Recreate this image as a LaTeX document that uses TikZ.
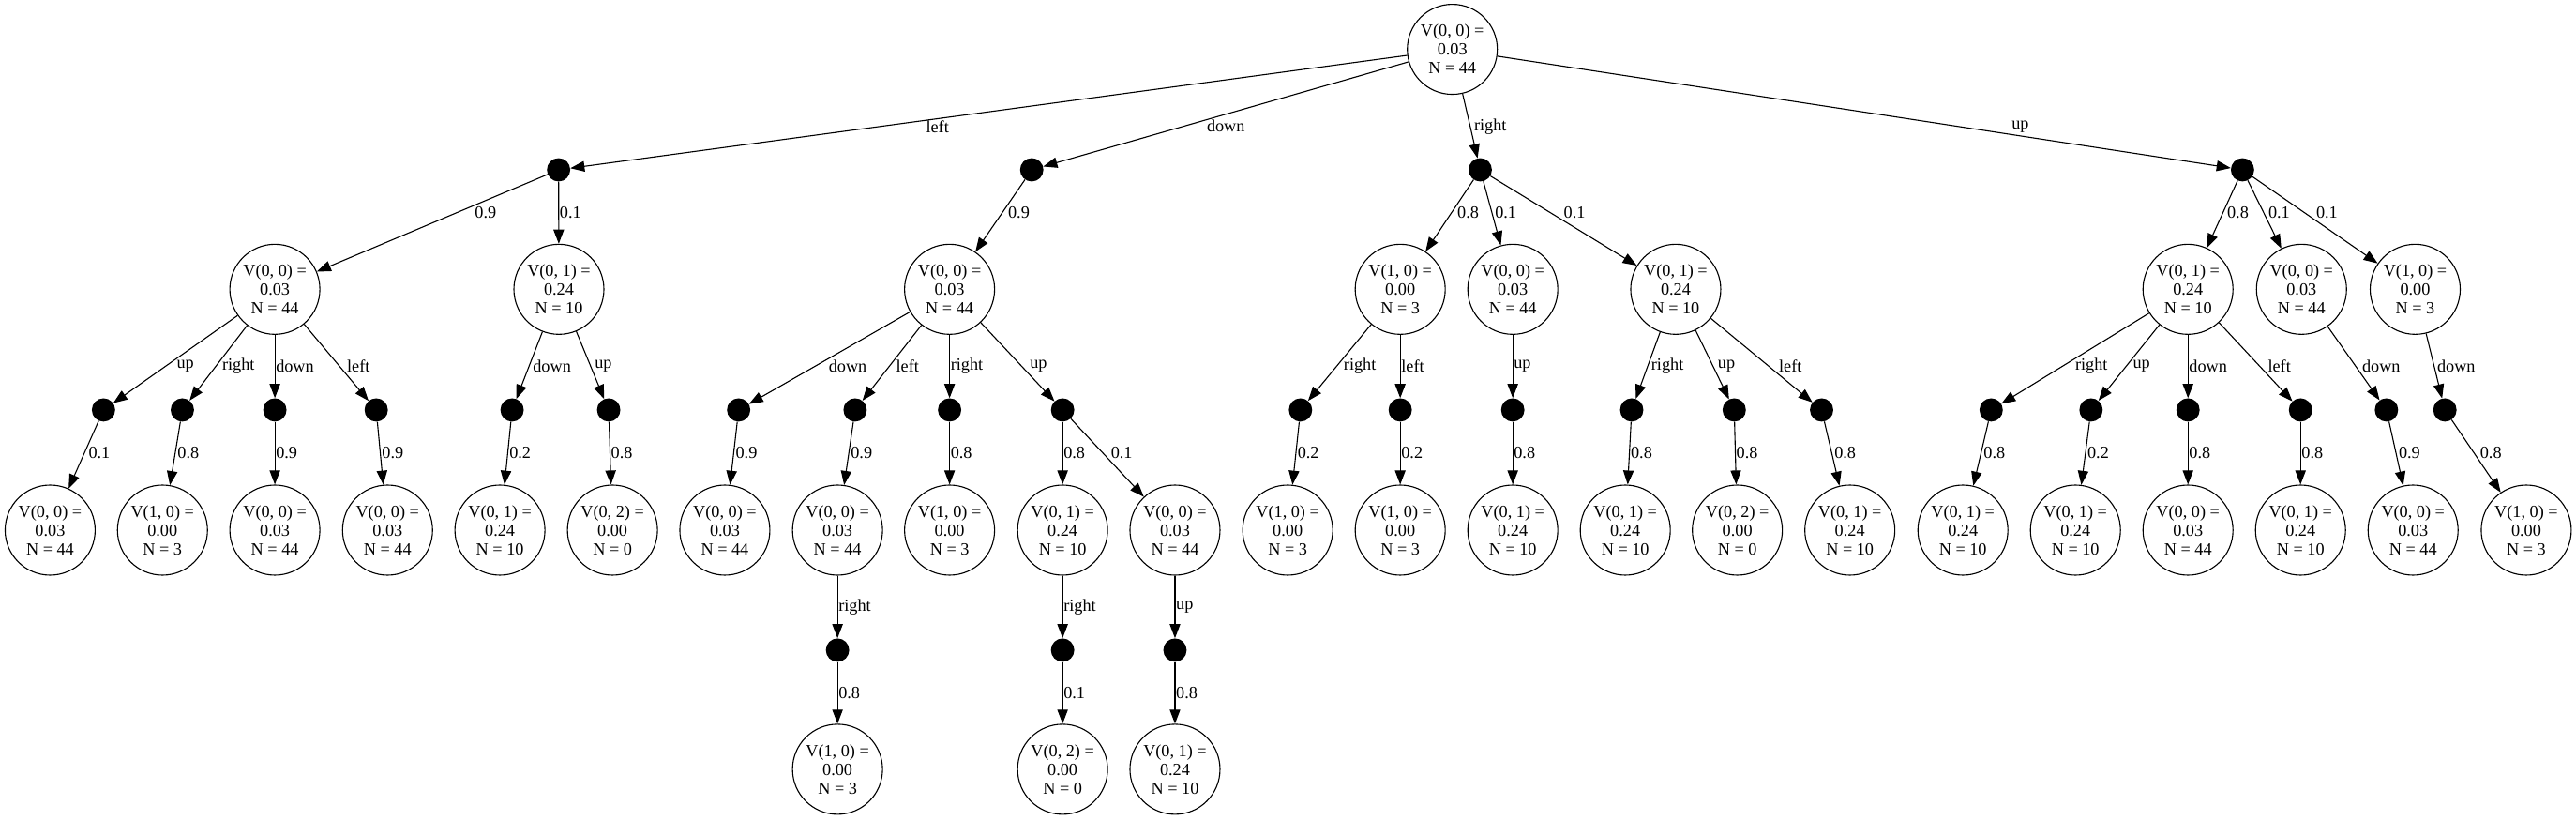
\documentclass[tikz,border=0pt]{standalone}
\usepackage{fontspec}
\setmainfont{Liberation Serif}
\usetikzlibrary{arrows.meta, calc}

\begin{document}
\begin{tikzpicture}[
    x=0.05cm, y=-0.05cm,
    every node/.style={font=\fontsize{14.8}{16.3}\selectfont},
    state/.style={circle, draw, line width=0.9pt, minimum size=2.74cm, inner sep=0pt, align=center},
    act/.style={circle, fill=black, minimum size=0.71cm, inner sep=0pt},
    arr/.style={-{Triangle[length=4.3mm, width=3.2mm]}, line width=0.9pt},
    lab/.style={anchor=west, inner sep=0.5pt}
]
\useasboundingbox (0,0) rectangle (1568,499);

% root
\node[state] (s0) at (884,30) {V(0, 0) =\\0.03\\N = 44};

% first actions
\node[act] (a1) at (340,103.3) {};
\node[act] (a2) at (628,103.3) {};
\node[act] (a3) at (901,103.3) {};
\node[act] (a4) at (1365,103.3) {};

% second level states
\node[state] (s1) at (167.3,176) {V(0, 0) =\\0.03\\N = 44};
\node[state] (s2) at (340.2,176) {V(0, 1) =\\0.24\\N = 10};
\node[state] (s3) at (578,176) {V(0, 0) =\\0.03\\N = 44};
\node[state] (s4) at (852.3,176) {V(1, 0) =\\0.00\\N = 3};
\node[state] (s5) at (920.8,176) {V(0, 0) =\\0.03\\N = 44};
\node[state] (s6) at (1020,176) {V(0, 1) =\\0.24\\N = 10};
\node[state] (s7) at (1331.8,176) {V(0, 1) =\\0.24\\N = 10};
\node[state] (s8) at (1400.9,176) {V(0, 0) =\\0.03\\N = 44};
\node[state] (s9) at (1470.1,176) {V(1, 0) =\\0.00\\N = 3};

% second actions
\node[act] (a5) at (63,249.4) {};
\node[act] (a6) at (111,249.4) {};
\node[act] (a7) at (167.3,249.4) {};
\node[act] (a8) at (229,249.4) {};
\node[act] (a9) at (311.7,249.4) {};
\node[act] (a10) at (370.5,249.4) {};
\node[act] (a11) at (449.6,249.4) {};
\node[act] (a12) at (520.5,249.4) {};
\node[act] (a13) at (578,249.4) {};
\node[act] (a14) at (646.8,249.4) {};
\node[act] (a15) at (791.6,249.4) {};
\node[act] (a16) at (852.3,249.4) {};
\node[act] (a17) at (920.8,249.4) {};
\node[act] (a18) at (993.2,249.4) {};
\node[act] (a19) at (1055.6,249.4) {};
\node[act] (a20) at (1108.8,249.4) {};
\node[act] (a21) at (1212,249.4) {};
\node[act] (a22) at (1272.8,249.4) {};
\node[act] (a23) at (1331.8,249.4) {};
\node[act] (a24) at (1400.3,249.4) {};
\node[act] (a25) at (1452.6,249.4) {};
\node[act] (a26) at (1488.2,249.4) {};

% third level states
\node[state] (s10) at (30.5,322.5) {V(0, 0) =\\0.03\\N = 44};
\node[state] (s11) at (98.9,322.5) {V(1, 0) =\\0.00\\N = 3};
\node[state] (s12) at (167.3,322.5) {V(0, 0) =\\0.03\\N = 44};
\node[state] (s13) at (235.9,322.5) {V(0, 0) =\\0.03\\N = 44};
\node[state] (s14) at (304.3,322.5) {V(0, 1) =\\0.24\\N = 10};
\node[state] (s15) at (372.8,322.5) {V(0, 2) =\\0.00\\N = 0};
\node[state] (s16) at (441.2,322.5) {V(0, 0) =\\0.03\\N = 44};
\node[state] (s17) at (509.8,322.5) {V(0, 0) =\\0.03\\N = 44};
\node[state] (s18) at (578,322.5) {V(1, 0) =\\0.00\\N = 3};
\node[state] (s19) at (646.8,322.5) {V(0, 1) =\\0.24\\N = 10};
\node[state] (s20) at (715.2,322.5) {V(0, 0) =\\0.03\\N = 44};
\node[state] (s21) at (783.8,322.5) {V(1, 0) =\\0.00\\N = 3};
\node[state] (s22) at (852.3,322.5) {V(1, 0) =\\0.00\\N = 3};
\node[state] (s23) at (920.8,322.5) {V(0, 1) =\\0.24\\N = 10};
\node[state] (s24) at (989.3,322.5) {V(0, 1) =\\0.24\\N = 10};
\node[state] (s25) at (1057.5,322.5) {V(0, 2) =\\0.00\\N = 0};
\node[state] (s26) at (1126,322.5) {V(0, 1) =\\0.24\\N = 10};
\node[state] (s27) at (1194.8,322.5) {V(0, 1) =\\0.24\\N = 10};
\node[state] (s28) at (1263.3,322.5) {V(0, 1) =\\0.24\\N = 10};
\node[state] (s29) at (1331.8,322.5) {V(0, 0) =\\0.03\\N = 44};
\node[state] (s30) at (1400.3,322.5) {V(0, 1) =\\0.24\\N = 10};
\node[state] (s31) at (1468.8,322.5) {V(0, 0) =\\0.03\\N = 44};
\node[state] (s32) at (1537.7,322.5) {V(1, 0) =\\0.00\\N = 3};

% third actions and last states
\node[act] (a27) at (509.8,395.5) {};
\node[act] (a28) at (646.8,395.5) {};
\node[act] (a29) at (715.2,395.5) {};
\node[state] (s33) at (509.8,468) {V(1, 0) =\\0.00\\N = 3};
\node[state] (s34) at (646.8,468) {V(0, 2) =\\0.00\\N = 0};
\node[state] (s35) at (715.2,468) {V(0, 1) =\\0.24\\N = 10};

% root -> actions
\draw[arr] (s0) -- (a1) node[lab, xshift=13.6mm] at ($(s0)!.64!(a1)$) {left};
\draw[arr] (s0) -- (a2) node[lab, xshift=6.9mm] at ($(s0)!.64!(a2)$) {down};
\draw[arr] (s0) -- (a3) node[lab, xshift=0.9mm] at ($(s0)!.64!(a3)$) {right};
\draw[arr] (s0) -- (a4) node[lab, xshift=16mm] at ($(s0)!.64!(a4)$) {up};

% actions -> states
\draw[arr] (a1) -- (s1) node[lab, xshift=5.3mm] at ($(a1)!.36!(s1)$) {0.9};
\draw[arr] (a1) -- (s2) node[lab] at ($(a1)!.36!(s2)$) {0.1};
\draw[arr] (a2) -- (s3) node[lab, xshift=1.5mm] at ($(a2)!.36!(s3)$) {0.9};
\draw[arr] (a3) -- (s4) node[lab, xshift=1.5mm] at ($(a3)!.36!(s4)$) {0.8};
\draw[arr] (a3) -- (s5) node[lab, xshift=0.6mm] at ($(a3)!.36!(s5)$) {0.1};
\draw[arr] (a3) -- (s6) node[lab, xshift=3.7mm] at ($(a3)!.36!(s6)$) {0.1};
\draw[arr] (a4) -- (s7) node[lab, xshift=1mm] at ($(a4)!.36!(s7)$) {0.8};
\draw[arr] (a4) -- (s8) node[lab, xshift=1.1mm] at ($(a4)!.36!(s8)$) {0.1};
\draw[arr] (a4) -- (s9) node[lab, xshift=3.2mm] at ($(a4)!.36!(s9)$) {0.1};

% states -> actions
\draw[arr] (s1) -- (a5) node[lab, xshift=3.2mm] at ($(s1)!.64!(a5)$) {up};
\draw[arr] (s1) -- (a6) node[lab, xshift=1.7mm] at ($(s1)!.64!(a6)$) {right};
\draw[arr] (s1) -- (a7) node[lab] at ($(s1)!.64!(a7)$) {down};
\draw[arr] (s1) -- (a8) node[lab, xshift=1.9mm] at ($(s1)!.64!(a8)$) {left};
\draw[arr] (s2) -- (a9) node[lab, xshift=0.9mm] at ($(s2)!.64!(a9)$) {down};
\draw[arr] (s2) -- (a10) node[lab, xshift=0.9mm] at ($(s2)!.64!(a10)$) {up};
\draw[arr] (s3) -- (a11) node[lab, xshift=4mm] at ($(s3)!.64!(a11)$) {down};
\draw[arr] (s3) -- (a12) node[lab, xshift=1.8mm] at ($(s3)!.64!(a12)$) {left};
\draw[arr] (s3) -- (a13) node[lab] at ($(s3)!.64!(a13)$) {right};
\draw[arr] (s3) -- (a14) node[lab, xshift=2.1mm] at ($(s3)!.64!(a14)$) {up};
\draw[arr] (s4) -- (a15) node[lab, xshift=1.9mm] at ($(s4)!.64!(a15)$) {right};
\draw[arr] (s4) -- (a16) node[lab] at ($(s4)!.64!(a16)$) {left};
\draw[arr] (s5) -- (a17) node[lab] at ($(s5)!.64!(a17)$) {up};
\draw[arr] (s6) -- (a18) node[lab, xshift=0.8mm] at ($(s6)!.64!(a18)$) {right};
\draw[arr] (s6) -- (a19) node[lab, xshift=1.1mm] at ($(s6)!.64!(a19)$) {up};
\draw[arr] (s6) -- (a20) node[lab, xshift=2.7mm] at ($(s6)!.64!(a20)$) {left};
\draw[arr] (s7) -- (a21) node[lab, xshift=3.7mm] at ($(s7)!.64!(a21)$) {right};
\draw[arr] (s7) -- (a22) node[lab, xshift=1.8mm] at ($(s7)!.64!(a22)$) {up};
\draw[arr] (s7) -- (a23) node[lab] at ($(s7)!.64!(a23)$) {down};
\draw[arr] (s7) -- (a24) node[lab, xshift=2.1mm] at ($(s7)!.64!(a24)$) {left};
\draw[arr] (s8) -- (a25) node[lab, xshift=1.6mm] at ($(s8)!.64!(a25)$) {down};
\draw[arr] (s9) -- (a26) node[lab, xshift=0.6mm] at ($(s9)!.64!(a26)$) {down};

% actions -> states
\draw[arr] (a5) -- (s10) node[lab, xshift=1mm] at ($(a5)!.36!(s10)$) {0.1};
\draw[arr] (a6) -- (s11) node[lab, xshift=0.4mm] at ($(a6)!.36!(s11)$) {0.8};
\draw[arr] (a7) -- (s12) node[lab] at ($(a7)!.36!(s12)$) {0.9};
\draw[arr] (a8) -- (s13) node[lab, xshift=0.2mm] at ($(a8)!.36!(s13)$) {0.9};
\draw[arr] (a9) -- (s14) node[lab, xshift=0.2mm] at ($(a9)!.36!(s14)$) {0.2};
\draw[arr] (a10) -- (s15) node[lab] at ($(a10)!.36!(s15)$) {0.8};
\draw[arr] (a11) -- (s16) node[lab, xshift=0.3mm] at ($(a11)!.36!(s16)$) {0.9};
\draw[arr] (a12) -- (s17) node[lab, xshift=0.3mm] at ($(a12)!.36!(s17)$) {0.9};
\draw[arr] (a13) -- (s18) node[lab] at ($(a13)!.36!(s18)$) {0.8};
\draw[arr] (a14) -- (s19) node[lab] at ($(a14)!.36!(s19)$) {0.8};
\draw[arr] (a14) -- (s20) node[lab, xshift=2.1mm] at ($(a14)!.36!(s20)$) {0.1};
\draw[arr] (a15) -- (s21) node[lab, xshift=0.2mm] at ($(a15)!.36!(s21)$) {0.2};
\draw[arr] (a16) -- (s22) node[lab] at ($(a16)!.36!(s22)$) {0.2};
\draw[arr] (a17) -- (s23) node[lab] at ($(a17)!.36!(s23)$) {0.8};
\draw[arr] (a18) -- (s24) node[lab, xshift=0.1mm] at ($(a18)!.36!(s24)$) {0.8};
\draw[arr] (a19) -- (s25) node[lab] at ($(a19)!.36!(s25)$) {0.8};
\draw[arr] (a20) -- (s26) node[lab, xshift=0.5mm] at ($(a20)!.36!(s26)$) {0.8};
\draw[arr] (a21) -- (s27) node[lab, xshift=0.5mm] at ($(a21)!.36!(s27)$) {0.8};
\draw[arr] (a22) -- (s28) node[lab, xshift=0.3mm] at ($(a22)!.36!(s28)$) {0.2};
\draw[arr] (a23) -- (s29) node[lab] at ($(a23)!.36!(s29)$) {0.8};
\draw[arr] (a24) -- (s30) node[lab] at ($(a24)!.36!(s30)$) {0.8};
\draw[arr] (a25) -- (s31) node[lab, xshift=0.5mm] at ($(a25)!.36!(s31)$) {0.9};
\draw[arr] (a26) -- (s32) node[lab, xshift=1.5mm] at ($(a26)!.36!(s32)$) {0.8};

% last level
\draw[arr] (s17) -- (a27) node[lab] at ($(s17)!.64!(a27)$) {right};
\draw[arr] (s19) -- (a28) node[lab] at ($(s19)!.64!(a28)$) {right};
\draw[arr] (s20) -- (a29) node[lab] at ($(s20)!.64!(a29)$) {up};
\draw[arr] (a27) -- (s33) node[lab] at ($(a27)!.36!(s33)$) {0.8};
\draw[arr] (a28) -- (s34) node[lab] at ($(a28)!.36!(s34)$) {0.1};
\draw[arr] (a29) -- (s35) node[lab] at ($(a29)!.36!(s35)$) {0.8};
\end{tikzpicture}
\end{document}
